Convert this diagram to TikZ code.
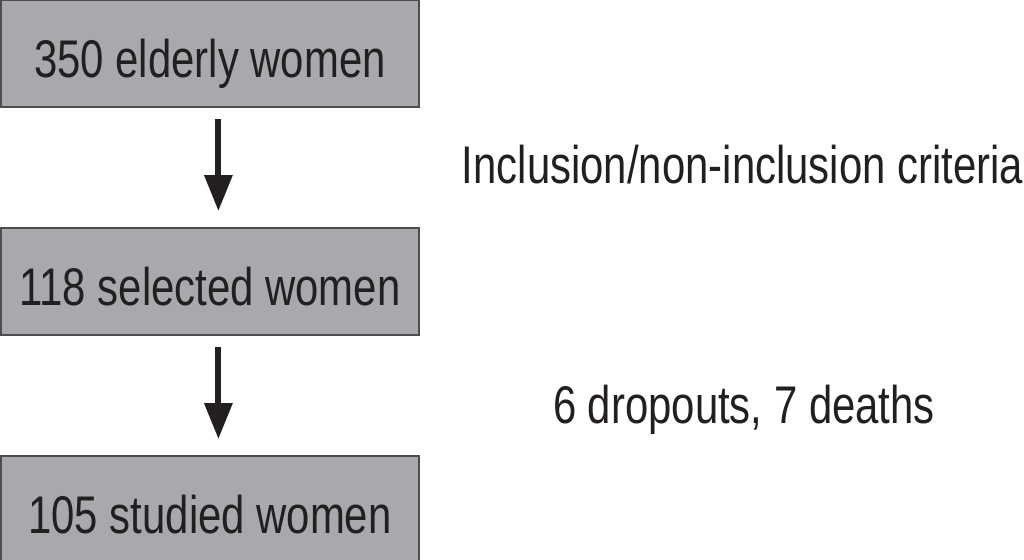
\documentclass[tikz,border=0pt]{standalone}
\usepackage{fontspec}
\setmainfont[FakeStretch=0.79]{Liberation Sans}
\usetikzlibrary{arrows.meta,positioning}
\definecolor{boxgray}{HTML}{A7A9AC}
\definecolor{edgegray}{HTML}{4D4D4F}
\definecolor{inkdark}{HTML}{231F20}

\begin{document}
\begin{tikzpicture}[x=0.025cm,y=-0.025cm,node distance=2.975cm,
  stagebox/.style={draw=edgegray,fill=boxgray,line width=1.4pt,
    minimum width=10.45cm,minimum height=2.675cm,inner sep=0pt,
    text height=1.2cm,text depth=0pt,text=inkdark,
    font=\fontsize{37.7}{45}\selectfont},
  sidenote/.style={anchor=base,text=inkdark,font=\fontsize{37.7}{45}\selectfont},
  flow/.style={-{Triangle[length=0.9cm,width=0.68cm]},line width=4.2pt,draw=inkdark,
    shorten <=0.275cm,shorten >=0.4cm}]
\useasboundingbox (0,0) rectangle (1024,559);
% boxes
\node[stagebox] (elderly) at (210,53.5) {350 elderly women};
\node[stagebox,below=of elderly] (selected) {118 selected women};
\node[stagebox,below=of selected] (studied) {105 studied women};
% arrows
\draw[flow] ([xshift=0.21cm]elderly.south) -- ([xshift=0.21cm]selected.north);
\draw[flow] ([xshift=0.21cm]selected.south) -- ([xshift=0.21cm]studied.north);
% side notes
\node[sidenote] (criteria) at (742.5,183) {Inclusion/non-inclusion criteria};
\node[sidenote] (losses) at (744,423) {6 dropouts, 7 deaths};
\end{tikzpicture}
\end{document}
